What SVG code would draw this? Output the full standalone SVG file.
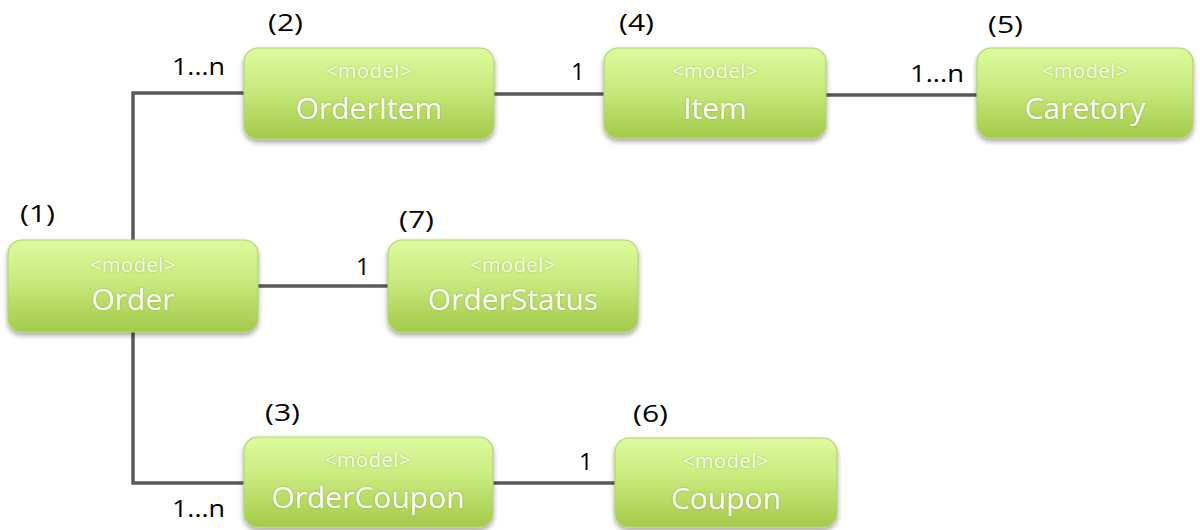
<svg xmlns="http://www.w3.org/2000/svg" width="1200" height="530" viewBox="0 0 1200 530">
  <defs>
    <linearGradient id="g" x1="0" y1="0" x2="0" y2="1">
      <stop offset="0" stop-color="#ddfb9f"/>
      <stop offset="0.45" stop-color="#c8ea7c"/>
      <stop offset="1" stop-color="#a3ca4a"/>
    </linearGradient>
    <filter id="sh" x="-10%" y="-10%" width="120%" height="130%">
      <feDropShadow dx="0" dy="3" stdDeviation="2.5" flood-color="#000" flood-opacity="0.35"/>
    </filter>
    <filter id="ts" x="-10%" y="-20%" width="120%" height="140%">
      <feDropShadow dx="0" dy="0" stdDeviation="0.8" flood-color="#7a9a30" flood-opacity="0.6"/>
    </filter>
  </defs>
  <style>
    .box { fill: url(#g); stroke: #b4d46a; stroke-width: 1.2; filter: url(#sh); }
    .st { font-family: "Open Sans", "Liberation Sans", sans-serif; font-size: 20px; letter-spacing: 0.6px; fill: #f7fcea; text-anchor: middle; filter: url(#ts); }
    .tt { font-family: "Open Sans", "Liberation Sans", sans-serif; font-size: 30px; fill: #ffffff; text-anchor: middle; filter: url(#ts); }
    .lb { font-family: "Open Sans", "Liberation Sans", sans-serif; font-size: 24px; fill: #000000; }
    .cn { stroke: #595959; stroke-width: 3.5; fill: none; }
  </style>
  <rect width="1200" height="530" fill="#ffffff"/>

  <g id="connectors">
    <polyline class="cn" points="244,93 133,93 133,483 244,483"/>
    <line class="cn" x1="494" y1="94" x2="604" y2="94"/>
    <line class="cn" x1="826" y1="95" x2="977" y2="95"/>
    <line class="cn" x1="258" y1="286" x2="388" y2="286"/>
    <line class="cn" x1="493" y1="483" x2="615" y2="483"/>
    <text class="lb" x="172" y="75" textLength="53" lengthAdjust="spacingAndGlyphs">1...n</text>
    <text class="lb" x="571" y="80">1</text>
    <text class="lb" x="910" y="82" textLength="54" lengthAdjust="spacingAndGlyphs">1...n</text>
    <text class="lb" x="356" y="275">1</text>
    <text class="lb" x="579" y="470">1</text>
    <text class="lb" x="172" y="517" textLength="53" lengthAdjust="spacingAndGlyphs">1...n</text>
  </g>

  <g id="order">
    <text class="lb" x="20" y="222" textLength="35" lengthAdjust="spacingAndGlyphs">(1)</text>
    <rect class="box" x="8" y="240" width="250" height="92" rx="14"/>
    <text class="st" x="133" y="272">&lt;model&gt;</text>
    <text class="tt" x="133" y="310">Order</text>
  </g>

  <g id="orderitem">
    <text class="lb" x="268" y="31" textLength="35" lengthAdjust="spacingAndGlyphs">(2)</text>
    <rect class="box" x="244" y="48" width="250" height="91" rx="14"/>
    <text class="st" x="369" y="78">&lt;model&gt;</text>
    <text class="tt" x="369" y="119">OrderItem</text>
  </g>

  <g id="ordercoupon">
    <text class="lb" x="265" y="421" textLength="35" lengthAdjust="spacingAndGlyphs">(3)</text>
    <rect class="box" x="244" y="437" width="249" height="90" rx="14"/>
    <text class="st" x="368" y="467">&lt;model&gt;</text>
    <text class="tt" x="368" y="508">OrderCoupon</text>
  </g>

  <g id="item">
    <text class="lb" x="619" y="31" textLength="35" lengthAdjust="spacingAndGlyphs">(4)</text>
    <rect class="box" x="604" y="48" width="222" height="90" rx="14"/>
    <text class="st" x="715" y="78">&lt;model&gt;</text>
    <text class="tt" x="715" y="119">Item</text>
  </g>

  <g id="caretory">
    <text class="lb" x="988" y="33" textLength="35" lengthAdjust="spacingAndGlyphs">(5)</text>
    <rect class="box" x="977" y="48" width="216" height="90" rx="14"/>
    <text class="st" x="1085" y="78">&lt;model&gt;</text>
    <text class="tt" x="1085" y="119">Caretory</text>
  </g>

  <g id="coupon">
    <text class="lb" x="633" y="422" textLength="35" lengthAdjust="spacingAndGlyphs">(6)</text>
    <rect class="box" x="615" y="438" width="222" height="89" rx="14"/>
    <text class="st" x="726" y="468">&lt;model&gt;</text>
    <text class="tt" x="726" y="509">Coupon</text>
  </g>

  <g id="orderstatus">
    <text class="lb" x="399" y="228" textLength="35" lengthAdjust="spacingAndGlyphs">(7)</text>
    <rect class="box" x="388" y="240" width="250" height="92" rx="14"/>
    <text class="st" x="513" y="272">&lt;model&gt;</text>
    <text class="tt" x="513" y="310">OrderStatus</text>
  </g>
</svg>
